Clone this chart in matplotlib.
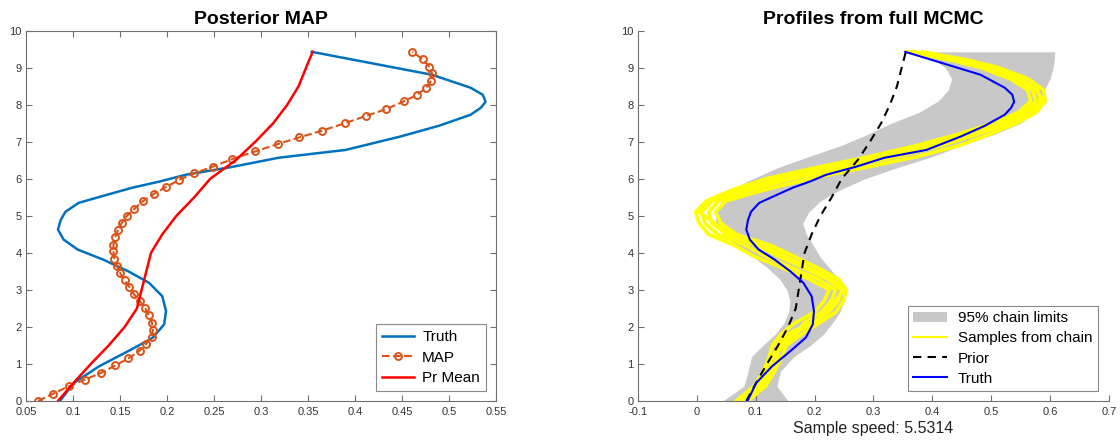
import matplotlib
matplotlib.use("Agg")
import matplotlib.pyplot as plt
from matplotlib.patches import Patch
from matplotlib.lines import Line2D

plt.rcParams['font.family'] = ['Liberation Sans', 'DejaVu Sans']

# ---- data ----
truth_depth = [0, 0.49, 0.94, 1.39, 1.71, 2.07, 2.43, 2.83, 3.19, 3.5, 3.82, 4.09,
               4.36, 4.63, 4.89, 5.11, 5.35, 5.51, 5.76, 5.92, 6.11, 6.32, 6.57,
               6.78, 7.14, 7.43, 7.73, 7.92, 8.08, 8.27, 8.46, 8.81, 9.43]
truth_speed = [0.086, 0.101, 0.128, 0.162, 0.185, 0.197, 0.199, 0.195, 0.181, 0.159,
               0.132, 0.105, 0.09, 0.084, 0.087, 0.092, 0.106, 0.128, 0.163, 0.191,
               0.22, 0.269, 0.319, 0.39, 0.448, 0.489, 0.523, 0.534, 0.539, 0.536,
               0.523, 0.482, 0.354]

prior_depth = [0, 0.5, 1, 1.5, 2, 2.5, 3, 3.5, 4, 4.5, 5, 5.5, 6, 6.5, 7, 7.5, 8,
               8.5, 9, 9.43]
prior_speed = [0.084, 0.101, 0.119, 0.138, 0.155, 0.168, 0.173, 0.178, 0.183, 0.195,
               0.210, 0.229, 0.246, 0.273, 0.294, 0.313, 0.328, 0.340, 0.348, 0.355]

map_depth = [0, 0.2, 0.4, 0.58, 0.76, 0.96, 1.15, 1.36, 1.55, 1.73, 1.91, 2.11, 2.31,
             2.5, 2.7, 2.88, 3.08, 3.26, 3.46, 3.64, 3.84, 4.04, 4.22, 4.43, 4.63,
             4.81, 4.99, 5.18, 5.39, 5.59, 5.78, 5.97, 6.15, 6.33, 6.53, 6.74, 6.94,
             7.12, 7.3, 7.5, 7.7, 7.88, 8.09, 8.27, 8.46, 8.65, 8.85, 9.03, 9.23, 9.43]
map_speed = [0.063, 0.079, 0.096, 0.113, 0.13, 0.145, 0.159, 0.171, 0.178, 0.184,
             0.185, 0.184, 0.181, 0.177, 0.171, 0.165, 0.16, 0.155, 0.15, 0.147,
             0.144, 0.143, 0.143, 0.145, 0.148, 0.152, 0.157, 0.165, 0.174, 0.186,
             0.199, 0.213, 0.229, 0.249, 0.269, 0.294, 0.318, 0.341, 0.365, 0.389,
             0.412, 0.433, 0.452, 0.466, 0.476, 0.481, 0.482, 0.479, 0.472, 0.461]

chain_depth = [0, 0.4, 0.8, 1.2, 1.5, 1.8, 2.1, 2.4, 2.7, 3.0, 3.3, 3.6, 3.9, 4.2,
               4.5, 4.8, 5.1, 5.4, 5.7, 6.0, 6.3, 6.6, 6.9, 7.2, 7.5, 7.8, 8.1, 8.4,
               8.7, 9.0, 9.2, 9.43]
band_lo = [0.044, 0.080, 0.087, 0.093, 0.112, 0.133, 0.148, 0.156, 0.158, 0.153,
           0.140, 0.120, 0.095, 0.065, 0.045, 0.032, 0.032, 0.042, 0.056, 0.095,
           0.137, 0.190, 0.245, 0.290, 0.330, 0.378, 0.410, 0.427, 0.433, 0.422,
           0.405, 0.353]
band_hi = [0.155, 0.136, 0.142, 0.165, 0.193, 0.215, 0.230, 0.243, 0.250, 0.255,
           0.240, 0.225, 0.209, 0.198, 0.186, 0.180, 0.190, 0.210, 0.243, 0.285,
           0.340, 0.400, 0.450, 0.505, 0.550, 0.575, 0.585, 0.590, 0.600, 0.605,
           0.607, 0.608]

sample_a = [0.067, 0.097, 0.113, 0.123, 0.128, 0.143, 0.166, 0.200, 0.216, 0.225,
            0.190, 0.145, 0.098, 0.064, 0.020, 0.004, -0.002, 0.016, 0.060, 0.117,
            0.202, 0.293, 0.373, 0.443, 0.503, 0.547, 0.567, 0.562, 0.532, 0.483,
            0.433, 0.357]
sample_b = [0.073, 0.103, 0.119, 0.130, 0.148, 0.168, 0.182, 0.212, 0.228, 0.236,
            0.205, 0.162, 0.118, 0.083, 0.035, 0.014, 0.008, 0.026, 0.075, 0.138,
            0.226, 0.316, 0.394, 0.460, 0.515, 0.556, 0.576, 0.570, 0.541, 0.492,
            0.441, 0.362]
sample_c = [0.079, 0.110, 0.125, 0.138, 0.136, 0.152, 0.195, 0.224, 0.240, 0.246,
            0.221, 0.182, 0.140, 0.102, 0.050, 0.026, 0.020, 0.037, 0.092, 0.162,
            0.252, 0.340, 0.416, 0.476, 0.528, 0.565, 0.584, 0.579, 0.551, 0.502,
            0.450, 0.370]
sample_d = [0.086, 0.117, 0.132, 0.145, 0.152, 0.178, 0.207, 0.236, 0.249, 0.254,
            0.240, 0.205, 0.166, 0.126, 0.067, 0.041, 0.032, 0.049, 0.115, 0.192,
            0.284, 0.374, 0.446, 0.497, 0.543, 0.577, 0.592, 0.589, 0.563, 0.513,
            0.463, 0.383]
sample_e = [0.070, 0.106, 0.122, 0.127, 0.142, 0.160, 0.200, 0.218, 0.235, 0.250,
            0.230, 0.190, 0.150, 0.112, 0.058, 0.030, 0.004, 0.022, 0.086, 0.150,
            0.240, 0.330, 0.405, 0.470, 0.535, 0.572, 0.590, 0.576, 0.546, 0.487,
            0.445, 0.366]
samples = [sample_a, sample_b, sample_c, sample_d, sample_e]

left_xticks = [0.05, 0.1, 0.15, 0.2, 0.25, 0.3, 0.35, 0.4, 0.45, 0.5, 0.55]
left_xlabels = ['0.05', '0.1', '0.15', '0.2', '0.25', '0.3', '0.35', '0.4', '0.45', '0.5', '0.55']
right_xticks = [-0.1, 0, 0.1, 0.2, 0.3, 0.4, 0.5, 0.6, 0.7]
right_xlabels = ['-0.1', '0', '0.1', '0.2', '0.3', '0.4', '0.5', '0.6', '0.7']
yticks = list(range(11))

axis_col = '#707070'
tick_col = '#333333'


def style_axes(ax, box):
    for side in ['left', 'bottom', 'top', 'right']:
        ax.spines[side].set_color(axis_col)
        ax.spines[side].set_linewidth(0.8)
    if not box:
        ax.spines['top'].set_visible(False)
        ax.spines['right'].set_visible(False)
    ax.tick_params(direction='in', length=4, width=0.8, color=axis_col,
                   labelsize=8, labelcolor=tick_col, top=box, right=box)
    ax.tick_params(axis='x', pad=4.5)
    ax.tick_params(axis='y', pad=3)
    ax.set_yticks(yticks)
    ax.set_ylim(0, 10)


fig = plt.figure(figsize=(11.2, 4.43), dpi=100)
ax1 = fig.add_axes([0.0232, 0.0948, 0.4196, 0.8359])
ax2 = fig.add_axes([0.5696, 0.0948, 0.4205, 0.8359])

# ---- left: posterior MAP ----
ax1.plot(truth_speed, truth_depth, color='#0072BD', lw=1.8, label='Truth')
ax1.plot(map_speed, map_depth, '--o', color='#D95319', lw=1.5, ms=5,
         mfc='none', mew=1.4, label='MAP')
ax1.plot(prior_speed, prior_depth, color='#FF0000', lw=1.8, label='Pr Mean')
ax1.set_xlim(0.05, 0.55)
ax1.set_xticks(left_xticks)
ax1.set_xticklabels(left_xlabels)
style_axes(ax1, True)
ax1.set_title('Posterior MAP', fontsize=14, fontweight='bold', pad=5)
leg1 = ax1.legend(loc='lower right', fontsize=11, numpoints=1, fancybox=False,
                  framealpha=1, edgecolor='#888888', handlelength=2.1,
                  borderaxespad=0.65, labelspacing=0.42, handletextpad=0.55,
                  borderpad=0.4)
leg1.get_frame().set_linewidth(0.8)

# ---- right: profiles from chain ----
ax2.fill_betweenx(chain_depth, band_lo, band_hi, color='#C8C8C8', lw=0)
for s in samples:
    ax2.plot(s, chain_depth, color='#FFFF00', lw=2.6)
ax2.plot(prior_speed, prior_depth, '--', color='black', lw=1.5, dashes=(4, 3))
ax2.plot(truth_speed, truth_depth, color='#0000FF', lw=1.5)
ax2.set_xlim(-0.1, 0.7)
ax2.set_xticks(right_xticks)
ax2.set_xticklabels(right_xlabels)
style_axes(ax2, False)
ax2.set_title('Profiles from full MCMC', fontsize=14, fontweight='bold', pad=5)
ax2.set_xlabel('Sample speed: 5.5314', fontsize=11.5, color='#222222', labelpad=3)

handles = [Patch(facecolor='#C8C8C8', edgecolor='none'),
           Line2D([], [], color='#FFFF00', lw=1.6),
           Line2D([], [], color='black', lw=1.5, ls='--', dashes=(4, 3)),
           Line2D([], [], color='#0000FF', lw=1.5)]
labels = ['95% chain limits', 'Samples from chain', 'Prior', 'Truth']
leg2 = ax2.legend(handles, labels, loc='lower right', fontsize=11, fancybox=False,
                  framealpha=1, edgecolor='#888888', handlelength=2.2,
                  borderaxespad=0.0, labelspacing=0.4, handletextpad=0.7,
                  borderpad=0.35, bbox_to_anchor=(0.976, 0.027))
leg2.get_frame().set_linewidth(0.8)

fig.savefig('out.png', dpi=100)
